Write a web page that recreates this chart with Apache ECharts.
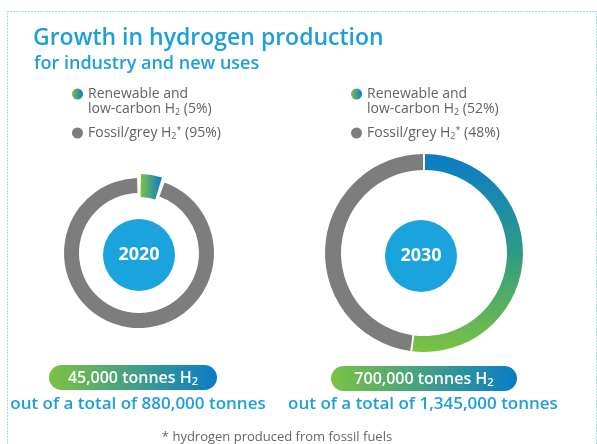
<!DOCTYPE html>
<html>
<head>
<meta charset="utf-8">
<script src="https://cdn.jsdelivr.net/npm/echarts@6/dist/echarts.min.js"></script>
<style>html,body{margin:0;padding:0;background:#fff}#c{width:597px;height:444px}</style>
</head>
<body>
<div id="c"></div>
<script>
const years = ['2020', '2030'];
const renewableTonnes = [45000, 700000];
const fossilTonnes = [835000, 645000];
const totalTonnes = [880000, 1345000];
const renewablePct = [5, 52];
const fossilPct = [95, 48];

const FONT = '"Open Sans", sans-serif';
const BLUE_TXT = '#1e9fd8';
const GREY = '#7d7d7d';
const G = echarts.graphic.LinearGradient;
const hGrad = () => new G(0, 0, 1, 0, [{offset: 0, color: '#7cc242'}, {offset: 1, color: '#0a7cc8'}]);
const vGrad = () => new G(0, 0, 0, 1, [{offset: 0, color: '#0a7cc8'}, {offset: 0.5, color: '#2f9b86'}, {offset: 1, color: '#7cc242'}]);
const fmt = v => v.toLocaleString('en-US');

const legendText = {};
years.forEach((y, i) => {
  legendText['Renewable ' + y] = '{t|Renewable and}\n{t|low-carbon H}{s|2}{t| (' + renewablePct[i] + '%)}';
  legendText['Fossil ' + y] = '{t|Fossil/grey H}{s|2}{p|*}{t| (' + fossilPct[i] + '%)}';
});
const rich = {
  t: {fontFamily: FONT, fontSize: 14, color: '#626262', lineHeight: 15},
  s: {fontFamily: FONT, fontSize: 9, color: '#626262', lineHeight: 9, verticalAlign: 'bottom'},
  p: {fontFamily: FONT, fontSize: 9, color: '#626262', lineHeight: 9, verticalAlign: 'top'}
};
function legendFor(i, left) {
  const y = years[i];
  return {
    orient: 'vertical', left: left, top: 87, padding: 0,
    itemWidth: 11, itemHeight: 11, itemGap: 9, icon: 'circle',
    selectedMode: false,
    textStyle: {rich: rich},
    formatter: n => legendText[n],
    data: [
      {name: 'Renewable ' + y, itemStyle: {color: hGrad()}, textStyle: {padding: [15, 0, 0, 0]}},
      {name: 'Fossil ' + y, itemStyle: {color: GREY}}
    ]
  };
}
const base = {type: 'pie', silent: true, label: {show: false}, labelLine: {show: false},
  emphasis: {disabled: true}, startAngle: 90, clockwise: true};

const option = {
  animation: false,
  title: [
    {text: 'Growth in hydrogen production', left: 33, top: 27, padding: 0,
     textStyle: {fontFamily: FONT, fontSize: 23, fontWeight: 600, color: BLUE_TXT}},
    {text: 'for industry and new uses', left: 34, top: 55, padding: 0,
     textStyle: {fontFamily: FONT, fontSize: 18, fontWeight: 600, color: BLUE_TXT}}
  ],
  legend: [legendFor(0, 72), legendFor(1, 351)],
  series: [
    Object.assign({}, base, {name: 'ring2020', center: [139, 253], radius: [60, 75], padAngle: 3,
      data: [{name: 'Renewable 2020', value: renewableTonnes[0], itemStyle: {color: 'rgba(0,0,0,0)'}},
             {name: 'Fossil 2020', value: fossilTonnes[0], itemStyle: {color: GREY}}]}),
    Object.assign({}, base, {name: 'green2020', center: [139, 253], radius: [56, 79], padAngle: 3,
      data: [{name: 'Renewable 2020', value: renewableTonnes[0], itemStyle: {color: hGrad()}},
             {name: 'Fossil 2020', value: fossilTonnes[0], itemStyle: {color: 'rgba(0,0,0,0)'}}]}),
    Object.assign({}, base, {name: 'ring2030', center: [424, 253], radius: [83, 99], padAngle: 1.2,
      data: [{name: 'Renewable 2030', value: renewableTonnes[1], itemStyle: {color: vGrad()}},
             {name: 'Fossil 2030', value: fossilTonnes[1], itemStyle: {color: GREY}}]}),
    Object.assign({}, base, {name: 'c2020', center: [139, 255], radius: [0, 36],
      label: {show: true, position: 'center', formatter: '{b}', color: '#fff', fontFamily: FONT, fontSize: 18, fontWeight: 'bold'},
      data: [{name: years[0], value: 1, itemStyle: {color: '#1aa3dd'}}]}),
    Object.assign({}, base, {name: 'c2030', center: [421, 256], radius: [0, 36],
      label: {show: true, position: 'center', formatter: '{b}', color: '#fff', fontFamily: FONT, fontSize: 18, fontWeight: 'bold'},
      data: [{name: years[1], value: 1, itemStyle: {color: '#1aa3dd'}}]})
  ],
  graphic: [
    {type: 'rect', silent: true, shape: {x: 7.5, y: 11.5, width: 589, height: 470},
     style: {fill: 'none', stroke: '#43bdf0', lineWidth: 1, lineDash: [1, 2]}},
    {type: 'rect', silent: true, shape: {x: 49, y: 365, width: 168, height: 25, r: 12.5}, style: {fill: hGrad()}},
    {type: 'rect', silent: true, shape: {x: 331, y: 366, width: 186, height: 25, r: 12.5}, style: {fill: hGrad()}},
    {type: 'text', silent: true, x: 133, y: 378, style: {
      text: '{m|' + fmt(renewableTonnes[0]) + ' tonnes H}{s|2}', align: 'center', verticalAlign: 'middle',
      rich: {m: {fontFamily: FONT, fontSize: 16, fontWeight: 600, fill: '#fff', lineHeight: 18},
             s: {fontFamily: FONT, fontSize: 11, fontWeight: 600, fill: '#fff', lineHeight: 11, verticalAlign: 'bottom'}}}},
    {type: 'text', silent: true, x: 424, y: 379, style: {
      text: '{m|' + fmt(renewableTonnes[1]) + ' tonnes H}{s|2}', align: 'center', verticalAlign: 'middle',
      rich: {m: {fontFamily: FONT, fontSize: 16, fontWeight: 600, fill: '#fff', lineHeight: 18},
             s: {fontFamily: FONT, fontSize: 11, fontWeight: 600, fill: '#fff', lineHeight: 11, verticalAlign: 'bottom'}}}},
    {type: 'text', silent: true, x: 138, y: 404, style: {
      text: 'out of a total of ' + fmt(totalTonnes[0]) + ' tonnes', align: 'center', verticalAlign: 'middle',
      font: '600 17px ' + FONT, fill: BLUE_TXT}},
    {type: 'text', silent: true, x: 423, y: 404, style: {
      text: 'out of a total of ' + fmt(totalTonnes[1]) + ' tonnes', align: 'center', verticalAlign: 'middle',
      font: '600 17px ' + FONT, fill: BLUE_TXT}},
    {type: 'text', silent: true, x: 277, y: 437, style: {
      text: '* hydrogen produced from fossil fuels', align: 'center', verticalAlign: 'middle',
      font: '13px ' + FONT, fill: '#666'}}
  ]
};
const chart = echarts.init(document.getElementById('c'), null, {renderer: 'canvas'});
chart.setOption(option);
</script>
</body>
</html>
